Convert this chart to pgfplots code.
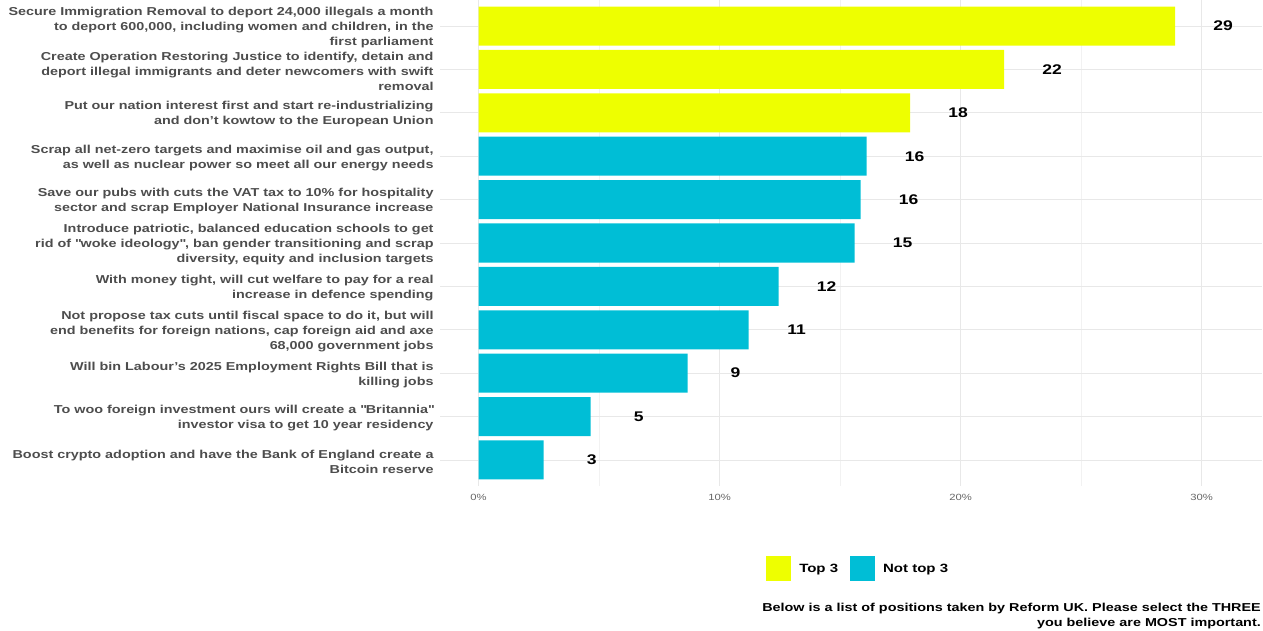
\documentclass[border=0pt]{standalone}
\usepackage{pgfplots}
\pgfplotsset{compat=1.18}
\usepackage{pgfplotstable}
\usepackage{fontspec}
\setmainfont{Liberation Sans}[FakeStretch=1.25]
\definecolor{topy}{RGB}{238,255,0}
\definecolor{notc}{RGB}{0,190,214}
\definecolor{labg}{RGB}{77,77,77}
\pgfplotstableread{
y x label
1 28.9 29
2 21.8 22
3 17.9 18
}\topthree
\pgfplotstableread{
y x label
4 16.1 16
5 15.85 16
6 15.6 15
7 12.45 12
8 11.2 11
9 8.67 9
10 4.65 5
11 2.7 3
}\nottop
\begin{document}
\begin{tikzpicture}[x=1pt,y=1pt]
\useasboundingbox (0,0) rectangle (1263,631);
\begin{axis}[
  at={(440pt,145pt)}, anchor=south west,
  scale only axis, width=822pt, height=486pt,
  xmin=-1.6, xmax=32.5, ymin=0.4, ymax=11.6, y dir=reverse,
  xbar, bar width=0.9, bar shift=0pt,
  axis line style={draw=none}, tick style={draw=none},
  xtick={0,10,20,30}, minor xtick={5,15,25},
  xmajorgrids, xminorgrids, ymajorgrids,
  major grid style={draw=black!9, line width=0.8pt},
  minor grid style={draw=black!5, line width=0.5pt},
  /pgf/number format/assume math mode=true,
  xticklabel={\pgfmathprintnumber{\tick}\%},
  xticklabel style={font=\fontsize{9}{10}\selectfont, text=black!60, yshift=-5pt},
  ytick={1,...,11},
  yticklabels={
    {Secure Immigration Removal to deport 24,000 illegals a month\\to deport 600,000, including women and children, in the\\first parliament},
    {Create Operation Restoring Justice to identify, detain and\\deport illegal immigrants and deter newcomers with swift\\removal},
    {Put our nation interest first and start re-industrializing\\and don't kowtow to the European Union},
    {Scrap all net-zero targets and maximise oil and gas output,\\as well as nuclear power so meet all our energy needs},
    {Save our pubs with cuts the VAT tax to 10\% for hospitality\\sector and scrap Employer National Insurance increase},
    {Introduce patriotic, balanced education schools to get\\rid of \textquotedbl woke ideology\textquotedbl, ban gender transitioning and scrap\\diversity, equity and inclusion targets},
    {With money tight, will cut welfare to pay for a real\\increase in defence spending},
    {Not propose tax cuts until fiscal space to do it, but will\\end benefits for foreign nations, cap foreign aid and axe\\68,000 government jobs},
    {Will bin Labour's 2025 Employment Rights Bill that is\\killing jobs},
    {To woo foreign investment ours will create a \textquotedbl Britannia\textquotedbl\\investor visa to get 10 year residency},
    {Boost crypto adoption and have the Bank of England create a\\Bitcoin reserve}
  },
  yticklabel style={font=\fontsize{11.5}{15}\selectfont\bfseries, text=labg, align=right, anchor=east, inner sep=0pt, xshift=-2pt, yshift=-1.5pt},
  nodes near coords, point meta=explicit symbolic,
  every node near coord/.append style={font=\fontsize{14}{16}\selectfont\bfseries, text=black, anchor=center, xshift=48pt},
  legend columns=2,
  legend style={draw=none, at={(axis description cs:0.393,-0.14)}, anchor=north west,
    font=\fontsize{12}{14}\selectfont\bfseries, text=black,
    /tikz/every odd column/.append style={column sep=6pt},
    /tikz/every even column/.append style={column sep=10pt}},
  legend image code/.code={\fill[#1, draw=none] (0pt,-12.5pt) rectangle (25pt,12.5pt);},
]
\addplot[fill=topy, draw=none] table[x=x, y=y, meta=label] {\topthree};
\addlegendentry{Top 3}
\addplot[fill=notc, draw=none] table[x=x, y=y, meta=label] {\nottop};
\addlegendentry{Not top 3}
\end{axis}
\node[anchor=north east, align=right, inner sep=0pt, font=\fontsize{11.5}{15}\selectfont\bfseries] at (1261,28)
  {Below is a list of positions taken by Reform UK. Please select the THREE\\you believe are MOST important.};
\end{tikzpicture}
\end{document}
